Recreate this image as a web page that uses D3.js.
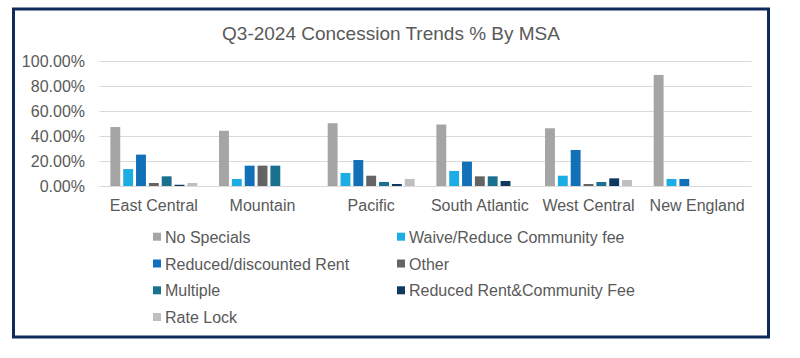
<!DOCTYPE html>
<html>
<head>
<meta charset="utf-8">
<script src="https://cdn.jsdelivr.net/npm/d3@7"></script>
<style>
  html, body { margin: 0; padding: 0; background: #fff; }
  svg { display: block; }
  text { font-family: "Liberation Sans", Arial, sans-serif; fill: #595959; }
</style>
</head>
<body>
<svg id="chart" width="800" height="358"></svg>
<script>
const title = "Q3-2024 Concession Trends % By MSA";
const categories = ["East Central", "Mountain", "Pacific", "South Atlantic", "West Central", "New England"];
const seriesNames = ["No Specials", "Waive/Reduce Community fee", "Reduced/discounted Rent", "Other", "Multiple", "Reduced Rent&Community Fee", "Rate Lock"];
const seriesColors = ["#a5a5a5", "#1cade4", "#1170b8", "#646464", "#19708f", "#0e3a62", "#bfbfbf"];
const noSpecials   = [0.47, 0.44, 0.50, 0.49, 0.46, 0.885];
const waiveFee     = [0.135, 0.056, 0.104, 0.12, 0.082, 0.056];
const reducedRent  = [0.25, 0.162, 0.207, 0.194, 0.287, 0.056];
const other        = [0.024, 0.162, 0.082, 0.077, 0.016, 0];
const multiple     = [0.077, 0.162, 0.032, 0.077, 0.032, 0];
const rentAndFee   = [0.01, 0, 0.016, 0.04, 0.061, 0];
const rateLock     = [0.024, 0, 0.056, 0, 0.048, 0];
const yTicks = [0, 0.2, 0.4, 0.6, 0.8, 1.0];

const seriesValues = [noSpecials, waiveFee, reducedRent, other, multiple, rentAndFee, rateLock];

const svg = d3.select("#chart");

// outer frame
svg.append("rect")
  .attr("x", 13.5).attr("y", 9)
  .attr("width", 755).attr("height", 328)
  .attr("fill", "#fff")
  .attr("stroke", "#0f2a5c").attr("stroke-width", 3);

// title
svg.append("text")
  .attr("x", 391).attr("y", 39.5)
  .attr("text-anchor", "middle")
  .style("font-size", "19px")
  .text(title);

const plot = { left: 99.5, right: 751.5, top: 60.5, bottom: 186 };

const x0 = d3.scaleBand()
  .domain(categories)
  .range([plot.left, plot.right])
  .paddingInner(0.2)
  .paddingOuter(0.1);

const x1 = d3.scaleBand()
  .domain(seriesNames)
  .range([0, x0.bandwidth()])
  .paddingInner(0.23)
  .paddingOuter(0);

const y = d3.scaleLinear().domain([0, 1]).range([plot.bottom, plot.top]);

// gridlines
svg.append("g")
  .selectAll("line")
  .data(yTicks)
  .join("line")
  .attr("x1", plot.left).attr("x2", plot.right)
  .attr("y1", d => Math.round(y(d)) + 0.5).attr("y2", d => Math.round(y(d)) + 0.5)
  .attr("stroke", "#d9d9d9").attr("stroke-width", 1);

// y axis labels
const yAxis = d3.axisLeft(y).tickValues(yTicks).tickFormat(d3.format(".2%")).tickSize(0).tickPadding(0);
const gy = svg.append("g").attr("transform", `translate(85,0)`).call(yAxis);
gy.select(".domain").remove();
gy.selectAll("text")
  .attr("dy", null)
  .attr("y", 5.5)
  .attr("x", 0)
  .style("font-size", "16px")
  .style("font-family", '"Liberation Sans", Arial, sans-serif')
  .attr("fill", "#595959");

// bars
const groups = svg.append("g")
  .selectAll("g")
  .data(categories)
  .join("g")
  .attr("transform", d => `translate(${x0(d)},0)`);

groups.selectAll("rect")
  .data((c, ci) => seriesNames.map((s, si) => ({ s, si, v: seriesValues[si][ci] })))
  .join("rect")
  .attr("x", d => x1(d.s))
  .attr("width", x1.bandwidth())
  .attr("y", d => y(d.v))
  .attr("height", d => y(0) - y(d.v))
  .attr("fill", d => seriesColors[d.si]);

// x axis labels
const xAxis = d3.axisBottom(x0).tickSize(0).tickPadding(0);
const gx = svg.append("g").attr("transform", `translate(0,${plot.bottom})`).call(xAxis);
gx.select(".domain").remove();
gx.selectAll("text")
  .attr("dy", null)
  .attr("y", 24.5)
  .style("font-size", "16px")
  .style("font-family", '"Liberation Sans", Arial, sans-serif')
  .attr("fill", "#595959");

// legend
const legendCols = [153, 397];
const legendRows = [242.7, 269.5, 296.3, 323];
const legend = svg.append("g")
  .selectAll("g")
  .data(seriesNames)
  .join("g")
  .attr("transform", (d, i) => `translate(${legendCols[i % 2]},${legendRows[Math.floor(i / 2)]})`);
legend.append("rect")
  .attr("x", 0).attr("y", -10)
  .attr("width", 8).attr("height", 8)
  .attr("fill", (d, i) => seriesColors[i]);
legend.append("text")
  .attr("x", 12).attr("y", 0)
  .style("font-size", "16px")
  .text(d => d);
</script>
</body>
</html>
